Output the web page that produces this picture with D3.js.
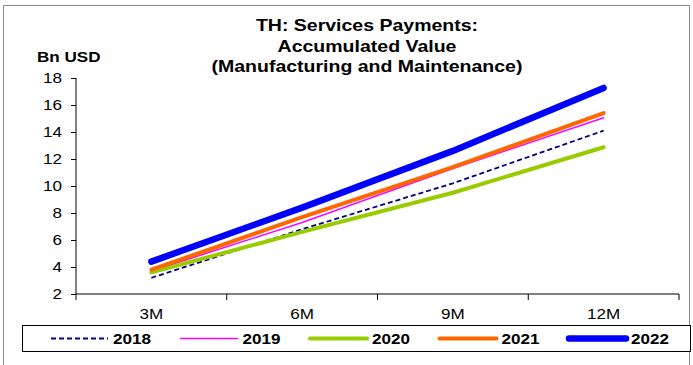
<!DOCTYPE html>
<html>
<head>
<meta charset="utf-8">
<script src="https://cdn.jsdelivr.net/npm/d3@7"></script>
<style>
  body { margin: 0; background: #fff; }
  text { font-family: Arial, "Liberation Sans", sans-serif; fill: #000; }
</style>
</head>
<body>
<div id="chart"></div>
<script>
// chart data
var periods = ["3M", "6M", "9M", "12M"];
var years = ["2018", "2019", "2020", "2021", "2022"];
var values2018 = [3.2, 6.8, 10.2, 14.1];
var values2019 = [3.7, 7.3, 11.3, 15.05];
var values2020 = [3.6, 6.6, 9.5, 12.87];
var values2021 = [3.8, 7.7, 11.4, 15.4];
var values2022 = [4.4, 8.4, 12.6, 17.26];
var yTicks = [2, 4, 6, 8, 10, 12, 14, 16, 18];
var titleLines = ["TH: Services Payments:", "Accumulated Value", "(Manufacturing and Maintenance)"];

var seriesValues = [values2018, values2019, values2020, values2021, values2022];
var seriesColors = ["#000080", "#ff00ff", "#99cc00", "#ff6600", "#0000ff"];
var seriesWidths = [1.8, 1.5, 4, 4, 6.5];
var seriesDash = ["5,3", null, null, null, null];

var width = 693, height = 365;
var plotLeft = 76, plotRight = 679, plotTop = 78, plotBottom = 294;
// the original text looks horizontally stretched
var stretchX = 1.22;

var svg = d3.select("#chart")
  .append("svg")
  .attr("width", width)
  .attr("height", height);

// place a text at (x, y) with the horizontal stretch
function stretchedText(x, y, str, size, bold, anchor) {
  return svg.append("text")
    .attr("transform", "translate(" + x + "," + y + ") scale(" + stretchX + ",1)")
    .attr("text-anchor", anchor || "start")
    .style("font-size", size + "px")
    .style("font-weight", bold ? "bold" : "normal")
    .text(str);
}

// outer frame
svg.append("path")
  .attr("d", "M3.5," + height + "V5.5H689.5V" + height)
  .attr("fill", "none")
  .attr("stroke", "#888")
  .attr("stroke-width", 1);

// scales
var xScale = d3.scaleBand()
  .domain(periods)
  .range([plotLeft, plotRight]);
var yScale = d3.scaleLinear()
  .domain([2, 18])
  .range([plotBottom, plotTop]);

// title
titleLines.forEach(function (t, i) {
  stretchedText(367, 31 + i * 20.5, t, 16, true, "middle");
});
stretchedText(37, 62, "Bn USD", 14, true);

// axes
var yAxis = d3.axisLeft(yScale)
  .tickValues(yTicks)
  .tickSize(5)
  .tickPadding(9);
var yAxisGroup = svg.append("g")
  .attr("transform", "translate(" + plotLeft + ",0)")
  .call(yAxis);

var xAxis = d3.axisBottom(xScale)
  .tickSize(0)
  .tickPadding(15);
var xAxisGroup = svg.append("g")
  .attr("transform", "translate(0," + plotBottom + ")")
  .call(xAxis);

// category separators on the horizontal axis
xAxisGroup.selectAll("line.sep")
  .data(periods.concat(["end"]))
  .enter()
  .append("line")
  .attr("class", "sep")
  .attr("x1", function (d, i) { return plotLeft + i * xScale.step(); })
  .attr("x2", function (d, i) { return plotLeft + i * xScale.step(); })
  .attr("y1", 0)
  .attr("y2", 6)
  .attr("stroke", "#000");

[yAxisGroup, xAxisGroup].forEach(function (g) {
  g.select(".domain").remove();
  g.selectAll(".tick line").attr("stroke", "#000");
  g.selectAll(".tick text").each(function () {
    var t = d3.select(this);
    var x = +t.attr("x") || 0, y = +t.attr("y") || 0;
    t.attr("x", null).attr("y", null)
      .attr("transform", "translate(" + x + "," + y + ") scale(" + stretchX + ",1)")
      .style("font-size", "14px")
      .attr("fill", "#000");
  });
});
yAxisGroup.append("line")
  .attr("x1", 0).attr("x2", 0)
  .attr("y1", plotTop).attr("y2", plotBottom)
  .attr("stroke", "#000");
xAxisGroup.append("line")
  .attr("x1", plotLeft).attr("x2", plotRight)
  .attr("y1", 0).attr("y2", 0)
  .attr("stroke", "#000");

// lines
var line = d3.line()
  .x(function (d, i) { return xScale(periods[i]) + xScale.bandwidth() / 2; })
  .y(function (d) { return yScale(d); });

svg.append("g")
  .selectAll("path")
  .data(seriesValues)
  .enter()
  .append("path")
  .attr("d", line)
  .attr("fill", "none")
  .attr("stroke", function (d, i) { return seriesColors[i]; })
  .attr("stroke-width", function (d, i) { return seriesWidths[i]; })
  .attr("stroke-dasharray", function (d, i) { return seriesDash[i]; })
  .attr("stroke-linecap", function (d, i) { return seriesDash[i] ? "butt" : "round"; });

// legend
var legendLeft = 22, legendTop = 325, legendWidth = 668, legendHeight = 26;
svg.append("rect")
  .attr("x", legendLeft + 0.5)
  .attr("y", legendTop + 0.5)
  .attr("width", legendWidth)
  .attr("height", legendHeight)
  .attr("fill", "#fff")
  .attr("stroke", "#000");

var legendX = d3.scalePoint()
  .domain(years)
  .range([51, 569]);

years.forEach(function (yr, i) {
  var x0 = legendX(yr), cy = legendTop + 13.5;
  svg.append("line")
    .attr("x1", x0)
    .attr("x2", x0 + 57)
    .attr("y1", cy)
    .attr("y2", cy)
    .attr("stroke", seriesColors[i])
    .attr("stroke-width", seriesWidths[i])
    .attr("stroke-dasharray", seriesDash[i])
    .attr("stroke-linecap", seriesDash[i] ? "butt" : "round");
  stretchedText(x0 + 62, cy + 5, yr, 14, true);
});
</script>
</body>
</html>
